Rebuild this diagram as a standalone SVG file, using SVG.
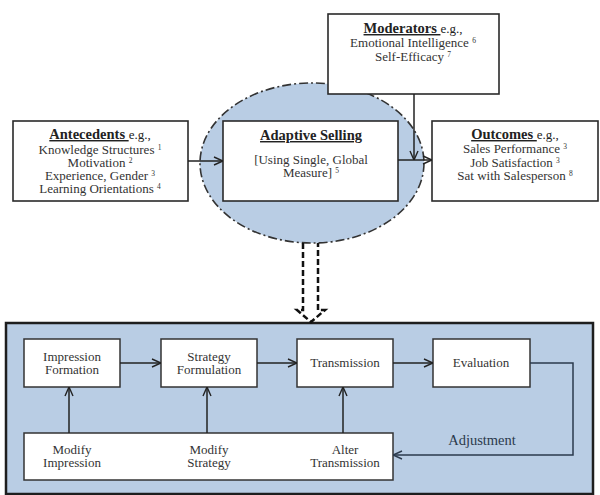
<svg xmlns="http://www.w3.org/2000/svg" width="600" height="495" viewBox="0 0 600 495">
<defs>
<marker id="arr" viewBox="0 0 10 10" refX="10" refY="5" markerWidth="10" markerHeight="10" markerUnits="userSpaceOnUse" orient="auto">
<path d="M1,1 L10,5 L1,9" fill="none" stroke="#222" stroke-width="1.4"/>
</marker>
<marker id="arrA" viewBox="0 0 10 10" refX="10" refY="5" markerWidth="10" markerHeight="10" markerUnits="userSpaceOnUse" orient="auto">
<path d="M1,1 L10,5 L1,9" fill="none" stroke="#2b3a4c" stroke-width="1.4"/>
</marker>
</defs>
<style>
text{fill:#333;text-anchor:middle}
.b{font-size:13px}
.h{font-size:14.5px;font-weight:bold;fill:#222}
.u{text-decoration:underline}
.eg{font-weight:normal;font-size:13px}
.sup{font-size:7.5px}
.box{fill:#fff;stroke:#2a2a2a;stroke-width:1.6}
.ibox{fill:#fff;stroke:#333;stroke-width:1.5}
.con{fill:none;stroke:#222;stroke-width:1.5}
</style>
<rect width="600" height="495" fill="#fff"/>

<g id="ellipse">
<ellipse cx="312" cy="163" rx="112" ry="80" fill="#b9cde4" stroke="#333" stroke-width="1.6" stroke-dasharray="9 3 2 3"/>
</g>

<g id="big-box">
<rect x="6" y="323" width="587" height="171" fill="#b9cde4" stroke="#1e1e1e" stroke-width="2.5"/>
</g>

<g font-family="Liberation Serif, DejaVu Serif, serif">
<g id="antecedents">
<rect class="box" x="13" y="121" width="175" height="80"/>
<text class="h" x="100" y="139"><tspan class="u">Antecedents </tspan><tspan class="eg">e.g.,</tspan></text>
<text class="b" x="100" y="154">Knowledge Structures <tspan class="sup" dy="-4">1</tspan></text>
<text class="b" x="100" y="167">Motivation <tspan class="sup" dy="-4">2</tspan></text>
<text class="b" x="100" y="180">Experience, Gender <tspan class="sup" dy="-4">3</tspan></text>
<text class="b" x="100" y="193">Learning Orientations <tspan class="sup" dy="-4">4</tspan></text>
</g>

<g id="adaptive-selling">
<rect class="box" x="223" y="121" width="175" height="80"/>
<text class="h u" x="311" y="140">Adaptive Selling</text>
<text class="b" x="311" y="164">[Using Single, Global</text>
<text class="b" x="311" y="177">Measure] <tspan class="sup" dy="-4">5</tspan></text>
</g>

<g id="moderators">
<rect class="box" x="328" y="14" width="171" height="80"/>
<text class="h" x="413" y="33"><tspan class="u">Moderators </tspan><tspan class="eg">e.g.,</tspan></text>
<text class="b" x="413" y="47">Emotional Intelligence <tspan class="sup" dy="-4">6</tspan></text>
<text class="b" x="413" y="61">Self-Efficacy <tspan class="sup" dy="-4">7</tspan></text>
</g>

<g id="outcomes">
<rect class="box" x="432" y="121" width="166" height="80"/>
<text class="h" x="515" y="139"><tspan class="u">Outcomes </tspan><tspan class="eg">e.g.,</tspan></text>
<text class="b" x="515" y="153">Sales Performance <tspan class="sup" dy="-4">3</tspan></text>
<text class="b" x="515" y="167">Job Satisfaction <tspan class="sup" dy="-4">3</tspan></text>
<text class="b" x="515" y="180">Sat with Salesperson <tspan class="sup" dy="-4">8</tspan></text>
</g>

<g id="impression-formation">
<rect class="ibox" x="24" y="339" width="96" height="48"/>
<text class="b" x="72" y="361">Impression</text>
<text class="b" x="72" y="374">Formation</text>
</g>
<g id="strategy-formulation">
<rect class="ibox" x="161" y="339" width="96" height="48"/>
<text class="b" x="209" y="361">Strategy</text>
<text class="b" x="209" y="374">Formulation</text>
</g>
<g id="transmission">
<rect class="ibox" x="297" y="339" width="96" height="48"/>
<text class="b" x="345" y="367">Transmission</text>
</g>
<g id="evaluation">
<rect class="ibox" x="433" y="339" width="97" height="48"/>
<text class="b" x="481" y="367">Evaluation</text>
</g>
<g id="modify-box">
<rect class="ibox" x="24" y="433" width="369" height="47"/>
<text class="b" x="72" y="454">Modify</text>
<text class="b" x="72" y="467">Impression</text>
<text class="b" x="209" y="454">Modify</text>
<text class="b" x="209" y="467">Strategy</text>
<text class="b" x="345" y="454">Alter</text>
<text class="b" x="345" y="467">Transmission</text>
</g>

<g id="connectors">
<line class="con" x1="188" y1="161" x2="223" y2="161" marker-end="url(#arr)"/>
<line class="con" x1="398" y1="160" x2="432" y2="160" marker-end="url(#arr)"/>
<line class="con" x1="414" y1="94" x2="414" y2="160" marker-end="url(#arr)"/>
<path d="M303,243 V310 H297 L311,322 L325,310 H318 V243" fill="none" stroke="#111" stroke-width="2.5" stroke-dasharray="6 3"/>
<line class="con" x1="120" y1="363" x2="161" y2="363" marker-end="url(#arr)"/>
<line class="con" x1="257" y1="363" x2="297" y2="363" marker-end="url(#arr)"/>
<line class="con" x1="393" y1="363" x2="433" y2="363" marker-end="url(#arr)"/>
<line class="con" x1="69" y1="433" x2="69" y2="387" marker-end="url(#arr)"/>
<line class="con" x1="207" y1="433" x2="207" y2="387" marker-end="url(#arr)"/>
<line class="con" x1="343" y1="433" x2="343" y2="387" marker-end="url(#arr)"/>
<path d="M530,363 H573 V455 H393" fill="none" stroke="#2b3a4c" stroke-width="1.5" marker-end="url(#arrA)"/>
<text x="482" y="445" style="font-size:14.5px;fill:#2b3a4c">Adjustment</text>
</g>
</g>
</svg>
